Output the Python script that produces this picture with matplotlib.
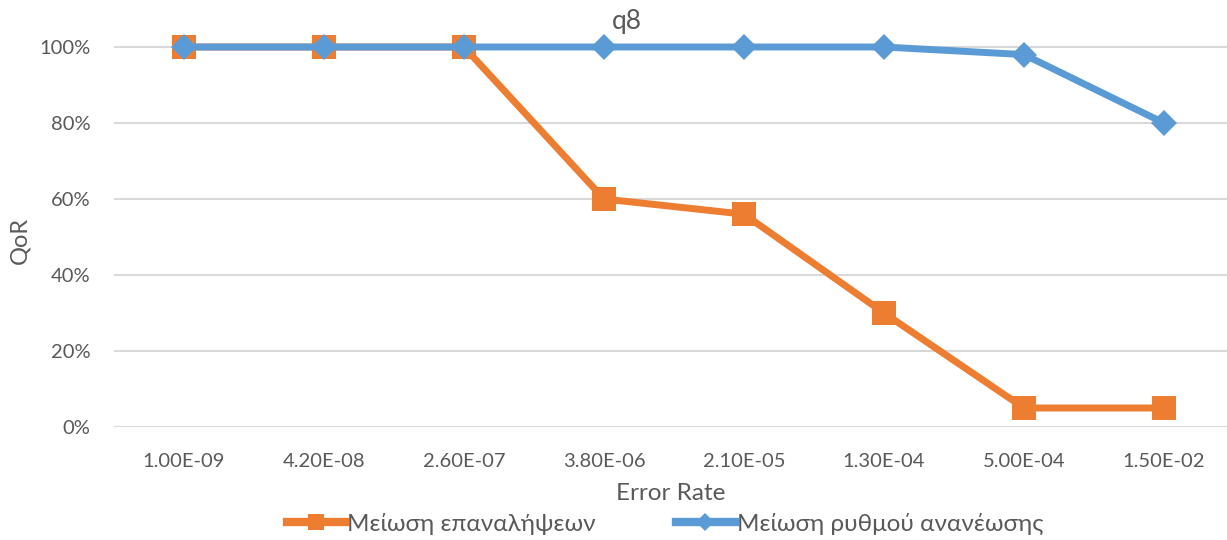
import matplotlib
matplotlib.use("Agg")
import matplotlib.pyplot as plt
from matplotlib.lines import Line2D
from matplotlib.ticker import FuncFormatter

plt.rcParams['font.family'] = ['Lato', 'DejaVu Sans']

categories = ["1.00E-09", "4.20E-08", "2.60E-07", "3.80E-06", "2.10E-05", "1.30E-04", "5.00E-04", "1.50E-02"]
series_orange = [1.00, 1.00, 1.00, 0.60, 0.56, 0.30, 0.05, 0.05]
series_blue = [1.00, 1.00, 1.00, 1.00, 1.00, 1.00, 0.98, 0.80]
name_orange = "Μείωση επαναλήψεων"
name_blue = "Μείωση ρυθμού ανανέωσης"
yticks = [0, 0.2, 0.4, 0.6, 0.8, 1.0]

ORANGE = "#ED7D31"
BLUE = "#5B9BD5"
TEXT = "#595959"
GRID = "#D9D9D9"

fig = plt.figure(figsize=(12.27, 5.40), dpi=100)
ax = fig.add_axes([114/1227, 113/540, (1227-114)/1227, (427-10)/540])

x = list(range(len(categories)))
ax.plot(x, series_orange, color=ORANGE, lw=5, marker='s', markersize=17,
        markeredgewidth=0, clip_on=False, zorder=3, solid_joinstyle='miter')
ax.plot(x, series_blue, color=BLUE, lw=5, marker='D', markersize=13,
        markeredgewidth=0, clip_on=False, zorder=4, solid_joinstyle='miter')

ax.set_xlim(-0.5, 7.45)
ax.set_ylim(0, 417/380)
ax.set_yticks(yticks)
ax.yaxis.set_major_formatter(FuncFormatter(lambda v, p: f"{round(v*100)}%"))
ax.set_xticks(x)
ax.set_xticklabels(categories)
ax.grid(axis='y', color=GRID, lw=1.5)
ax.set_axisbelow(True)
for s in ax.spines.values():
    s.set_visible(False)
ax.tick_params(axis='both', length=0, labelsize=14.5, colors=TEXT)
ax.tick_params(axis='x', pad=19)
ax.tick_params(axis='y', pad=17)

ax.set_xlabel("Error Rate", fontsize=17.5, color=TEXT, labelpad=9)
fig.text(20/1227, 1 - 240/540, "QoR", rotation=90, fontsize=17, color=TEXT,
         ha='center', va='center')
fig.text(627/1227, 1 - 22/540, "q8", fontsize=19, color=TEXT, ha='center', va='center')

handles = [
    Line2D([], [], color=ORANGE, lw=6, marker='s', markersize=12, markeredgewidth=0),
    Line2D([], [], color=BLUE, lw=6, marker='D', markersize=9, markeredgewidth=0),
]
leg = fig.legend(handles, [name_orange, name_blue], loc='center',
                 bbox_to_anchor=(665/1227, 1 - 524/540), ncol=2, frameon=False,
                 fontsize=17.5, handlelength=2.4, handletextpad=0.1,
                 columnspacing=3.3, borderpad=0)
for t in leg.get_texts():
    t.set_color(TEXT)

fig.savefig("out.png", dpi=100)
